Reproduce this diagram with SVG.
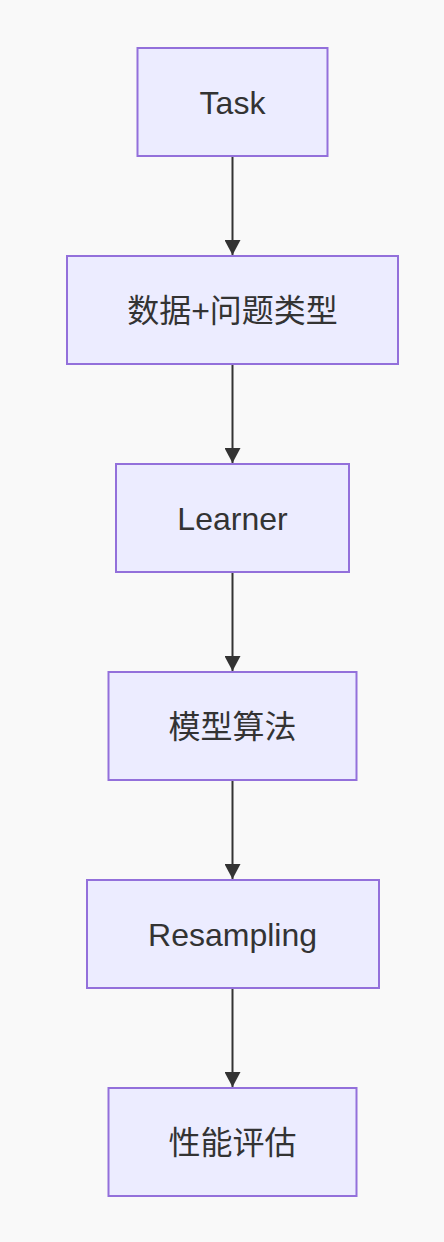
<svg xmlns="http://www.w3.org/2000/svg" width="444" height="1242" viewBox="0 0 444 1242">
<style>
.bg{fill:#f9f9f9}
.node rect{fill:#ECECFF;stroke:#9370DB;stroke-width:2}
.node text{font-family:"Helvetica","Liberation Sans","Noto Sans CJK SC",sans-serif;font-size:32px;fill:#333;text-anchor:middle}
.edge{stroke:#333;stroke-width:2;fill:none}
</style>
<defs>
<marker id="arrow" markerUnits="userSpaceOnUse" markerWidth="16" markerHeight="16" refX="15" refY="8" orient="auto" viewBox="0 0 16 16">
<path d="M0,0 L15,8 L0,16 z" fill="#333"/>
</marker>
</defs>
<rect class="bg" x="0" y="0" width="444" height="1242"/>
<g id="connectors">
<line class="edge" x1="232.5" y1="157" x2="232.5" y2="255" marker-end="url(#arrow)"/>
<line class="edge" x1="232.5" y1="365" x2="232.5" y2="463" marker-end="url(#arrow)"/>
<line class="edge" x1="232.5" y1="573" x2="232.5" y2="671" marker-end="url(#arrow)"/>
<line class="edge" x1="232.5" y1="781" x2="232.5" y2="879" marker-end="url(#arrow)"/>
<line class="edge" x1="232.5" y1="989" x2="232.5" y2="1087" marker-end="url(#arrow)"/>
</g>
<g id="task" class="node"><rect x="137.5" y="48" width="190" height="108"/><text x="232.5" y="113.5">Task</text></g>
<g id="data" class="node"><rect x="67" y="256" width="331" height="108"/><text x="232.5" y="322">数据+问题类型</text></g>
<g id="learner" class="node"><rect x="116" y="464" width="233" height="108"/><text x="232.5" y="529.5">Learner</text></g>
<g id="model" class="node"><rect x="108.5" y="672" width="248" height="108"/><text x="232.5" y="738">模型算法</text></g>
<g id="resampling" class="node"><rect x="87" y="880" width="292" height="108"/><text x="232.5" y="945.5">Resampling</text></g>
<g id="perf" class="node"><rect x="108.5" y="1088" width="248" height="108"/><text x="232.5" y="1154">性能评估</text></g>
</svg>
